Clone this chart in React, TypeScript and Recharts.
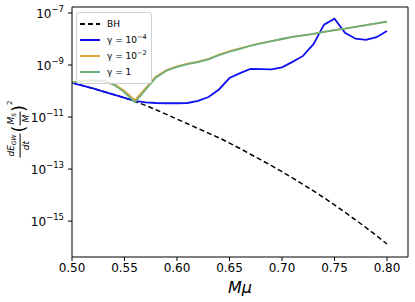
import React from "react";
import { Legend, Line, LineChart, ReferenceLine, XAxis, YAxis } from "recharts";

if (typeof document !== "undefined") document.body.style.margin = "0";

const FONT = "'DejaVu Sans', sans-serif";

const MU = [
  0.5, 0.51, 0.52, 0.53, 0.54, 0.55, 0.56, 0.57, 0.58, 0.59, 0.6, 0.61, 0.62, 0.63, 0.64, 0.65,
  0.66, 0.67, 0.68, 0.69, 0.7, 0.71, 0.72, 0.73, 0.74, 0.75, 0.76, 0.77, 0.78, 0.79, 0.8,
];

// log10 of dE/dt (Ms/M)^2
const BH = [
  -9.68, -9.79, -9.9, -10.02, -10.14, -10.26, -10.4, -10.55, -10.72, -10.9, -11.08, -11.26, -11.44,
  -11.62, -11.8, -12.0, -12.21, -12.43, -12.65, -12.87, -13.1, -13.34, -13.59, -13.84, -14.1,
  -14.38, -14.66, -14.95, -15.25, -15.56, -15.88,
];
const G_1E4 = [
  -9.68, -9.79, -9.9, -10.02, -10.14, -10.26, -10.38, -10.44, -10.46, -10.47, -10.47, -10.46,
  -10.38, -10.23, -9.94, -9.5, -9.31, -9.15, -9.16, -9.17, -9.09, -8.88, -8.65, -8.2, -7.45, -7.22,
  -7.76, -7.99, -8.03, -7.93, -7.69,
];
const G_1E2 = [
  -9.66, -9.62, -9.6, -9.62, -9.72, -10.0, -10.35, -9.9, -9.44, -9.19, -9.05, -8.95, -8.87, -8.76,
  -8.6, -8.47, -8.36, -8.25, -8.16, -8.08, -8.0, -7.92, -7.86, -7.8, -7.73, -7.66, -7.6, -7.53,
  -7.47, -7.4, -7.33,
];
const G_1 = [
  -9.68, -9.61, -9.58, -9.62, -9.76, -10.05, -10.43, -9.95, -9.48, -9.22, -9.07, -8.97, -8.89,
  -8.78, -8.62, -8.49, -8.38, -8.26, -8.17, -8.08, -8.0, -7.92, -7.86, -7.8, -7.73, -7.66, -7.6,
  -7.53, -7.47, -7.4, -7.33,
];

const X_TICKS = [0.5, 0.55, 0.6, 0.65, 0.7, 0.75, 0.8];
const Y_TICKS = [-15, -13, -11, -9, -7];
const X_DOMAIN = [0.5, 0.82];
const Y_DOMAIN = [-16.38, -6.77];

const SERIES = [
  { key: "bh", name: "BH", color: "#000000", dash: "5 3", exp: "" },
  { key: "g4", name: "γ = 10", color: "#1010f0", dash: undefined, exp: "−4" },
  { key: "g2", name: "γ = 10", color: "#e4a83a", dash: undefined, exp: "−2" },
  { key: "g0", name: "γ = 1", color: "#6aae7c", dash: undefined, exp: "" },
];

const data = MU.map((mu, i) => ({ mu, bh: BH[i], g4: G_1E4[i], g2: G_1E2[i], g0: G_1[i] }));

function YTick({ x, y, payload }: any) {
  const n = Math.round(payload.value);
  return (
    <text x={x - 2} y={y + 5} textAnchor="end" fontFamily={FONT} fontSize={12} fill="#000">
      10
      <tspan dy={-6} fontSize={8.5}>
        {`−${Math.abs(n)}`}
      </tspan>
    </text>
  );
}

function LegendBox() {
  return (
    <div
      style={{
        background: "rgba(255,255,255,0.8)",
        border: "1px solid #d0d0d0",
        borderRadius: 3,
        padding: "3px 4px 3px 3px",
        fontFamily: FONT,
        fontSize: 9,
      }}
    >
      {SERIES.map((s) => (
        <div key={s.key} style={{ display: "flex", alignItems: "center", whiteSpace: "nowrap", height: 16 }}>
          <svg width={20} height={6} style={{ marginRight: 7 }}>
            <line x1={0} x2={20} y1={3} y2={3} stroke={s.color} strokeWidth={2} strokeDasharray={s.dash} />
          </svg>
          <span style={{ lineHeight: "10px" }}>
            {s.name}
            {s.exp && <span style={{ fontSize: 6.5, position: "relative", top: -4 }}>{s.exp}</span>}
          </span>
        </div>
      ))}
    </div>
  );
}

function Frac({ top, bottom }: { top: React.ReactNode; bottom: React.ReactNode }) {
  return (
    <span style={{ display: "inline-flex", flexDirection: "column", alignItems: "center", lineHeight: "10px" }}>
      <span style={{ padding: "0 1px" }}>{top}</span>
      <span style={{ borderTop: "0.8px solid #000", padding: "0 1px", alignSelf: "stretch", textAlign: "center" }}>
        {bottom}
      </span>
    </span>
  );
}

export default function App() {
  return (
    <div style={{ position: "relative", width: 415, height: 302, background: "#fff" }}>
      <LineChart width={415} height={302} data={data} margin={{ top: 7, right: 7, left: 12, bottom: 15 }}>
        <XAxis
          dataKey="mu"
          type="number"
          domain={X_DOMAIN}
          ticks={X_TICKS}
          tickFormatter={(v) => v.toFixed(2)}
          tick={{ fontFamily: FONT, fontSize: 12, fill: "#000" }}
          tickSize={4}
          tickLine={{ stroke: "#000" }}
          axisLine={{ stroke: "#000" }}
          height={30}
          allowDataOverflow
        />
        <YAxis
          type="number"
          domain={Y_DOMAIN}
          ticks={Y_TICKS}
          tick={<YTick />}
          tickSize={4}
          tickLine={{ stroke: "#000" }}
          axisLine={{ stroke: "#000" }}
          width={60}
          allowDataOverflow
        />
        <ReferenceLine y={Y_DOMAIN[1]} stroke="#000" strokeWidth={1} />
        <ReferenceLine x={X_DOMAIN[1]} stroke="#000" strokeWidth={1} />
        <Legend
          layout="vertical"
          align="center"
          verticalAlign="middle"
          content={() => <LegendBox />}
          wrapperStyle={{ left: 76, top: 12, width: "auto" }}
        />
        {SERIES.map((s) => (
          <Line
            key={s.key}
            dataKey={s.key}
            name={s.name}
            stroke={s.color}
            strokeWidth={s.key === "bh" ? 1.5 : 1.8}
            strokeDasharray={s.dash}
            dot={false}
            type="linear"
            isAnimationActive={false}
          />
        ))}
      </LineChart>
      <div
        style={{
          position: "absolute",
          left: 240,
          top: 287,
          transform: "translate(-50%,-50%)",
          fontFamily: FONT,
          fontStyle: "italic",
          fontSize: 16,
        }}
      >
        Mμ
      </div>
      <div
        style={{
          position: "absolute",
          left: 18,
          top: 129,
          transform: "translate(-50%,-50%) rotate(-90deg)",
          fontFamily: FONT,
          fontStyle: "italic",
          fontSize: 9,
          whiteSpace: "nowrap",
          display: "flex",
          alignItems: "center",
        }}
      >
        <Frac
          top={
            <>
              dE<sub style={{ fontSize: 6 }}>GW</sub>
            </>
          }
          bottom="dt"
        />
        <span style={{ fontStyle: "normal", fontSize: 18, margin: "0 0 0 1px" }}>(</span>
        <Frac
          top={
            <>
              M<sub style={{ fontSize: 6 }}>S</sub>
            </>
          }
          bottom="M"
        />
        <span style={{ fontStyle: "normal", fontSize: 18 }}>)</span>
        <sup style={{ fontStyle: "normal", fontSize: 7, alignSelf: "flex-start" }}>2</sup>
      </div>
    </div>
  );
}
